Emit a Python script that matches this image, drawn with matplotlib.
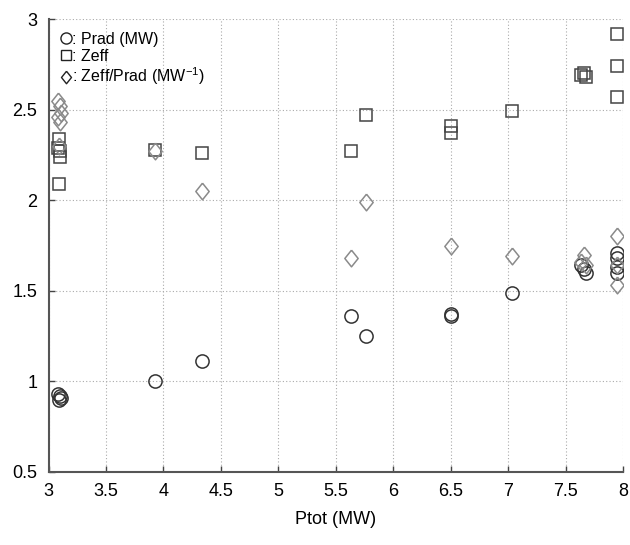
import numpy as np
from matplotlib import pyplot as plt
from matplotlib.lines import Line2D
from matplotlib.ticker import FormatStrFormatter

plt.rcParams['font.family'] = ['Liberation Sans', 'DejaVu Sans']

# Prad (MW)
prad_x = [3.08, 3.10, 3.11, 3.09, 3.93, 4.34, 5.63, 5.76, 6.50, 6.50, 7.03,
          7.63, 7.66, 7.68, 7.95, 7.95, 7.95, 7.95]
prad_y = [0.93, 0.92, 0.91, 0.90, 1.00, 1.11, 1.36, 1.25, 1.37, 1.36, 1.49,
          1.64, 1.62, 1.60, 1.71, 1.68, 1.63, 1.60]
# Zeff
zeff_x = [3.09, 3.08, 3.10, 3.10, 3.09, 3.93, 4.34, 5.63, 5.76, 6.50, 6.50,
          7.03, 7.63, 7.66, 7.68, 7.95, 7.95, 7.95]
zeff_y = [2.34, 2.29, 2.27, 2.24, 2.09, 2.28, 2.26, 2.27, 2.47, 2.41, 2.37,
          2.49, 2.69, 2.70, 2.68, 2.92, 2.74, 2.57]
# Zeff/Prad (MW^-1)
ratio_x = [3.08, 3.10, 3.11, 3.08, 3.10, 3.09, 3.93, 4.34, 5.63, 5.76, 6.50,
           7.03, 7.63, 7.66, 7.68, 7.95, 7.95, 7.95]
ratio_y = [2.55, 2.52, 2.48, 2.46, 2.43, 2.30, 2.27, 2.05, 1.68, 1.99, 1.75,
           1.69, 1.66, 1.70, 1.64, 1.80, 1.64, 1.53]

xticks = [3, 3.5, 4, 4.5, 5, 5.5, 6, 6.5, 7, 7.5, 8]
yticks = [0.5, 1, 1.5, 2, 2.5, 3]

diamond = [(0, 1), (0.8, 0), (0, -1), (-0.8, 0), (0, 1)]

fig = plt.figure(figsize=(6.3, 5.45), dpi=100)
ax = fig.add_axes([0.077, 0.134, 0.912, 0.831])

ax.plot(prad_x, prad_y, 'o', ms=9.5, mfc='none', mec='#333333', mew=1.1, ls='none')
ax.plot(zeff_x, zeff_y, 's', ms=8, mfc='none', mec='#444444', mew=1.1, ls='none')
ax.plot(ratio_x, ratio_y, marker=diamond, ms=12, mfc='none', mec='#8a8a8a', mew=1.1, ls='none')

ax.set_xlim(3, 8)
ax.set_ylim(0.5, 3)
ax.set_xticks(xticks)
ax.set_yticks(yticks)
ax.xaxis.set_major_formatter(FormatStrFormatter('%g'))
ax.yaxis.set_major_formatter(FormatStrFormatter('%g'))
ax.tick_params(direction='in', length=4, width=1, color='#444444', labelsize=13, pad=8)
ax.grid(True, ls=(0, (1, 2)), color='#aaaaaa', lw=0.8)
for s in ['top', 'right']:
    ax.spines[s].set_visible(False)
for s in ['left', 'bottom']:
    ax.spines[s].set_color('#555555')
    ax.spines[s].set_linewidth(1.5)
ax.set_xlabel('Ptot (MW)', fontsize=13, labelpad=8)

handles = [Line2D([], [], marker='o', ms=8, mfc='none', mec='#222222', ls='none'),
           Line2D([], [], marker='s', ms=7, mfc='none', mec='#222222', ls='none'),
           Line2D([], [], marker=diamond, ms=9, mfc='none', mec='#222222', ls='none')]
labels = [': Prad (MW)', ': Zeff', ': Zeff/Prad (MW$^{\\mathregular{-1}}$)']
ax.legend(handles, labels, loc='upper left', frameon=False, fontsize=11.5,
          handlelength=0.6, handletextpad=0.1, labelspacing=0.12,
          borderaxespad=0.4, bbox_to_anchor=(0.0, 1.0))

plt.savefig('out.png')
